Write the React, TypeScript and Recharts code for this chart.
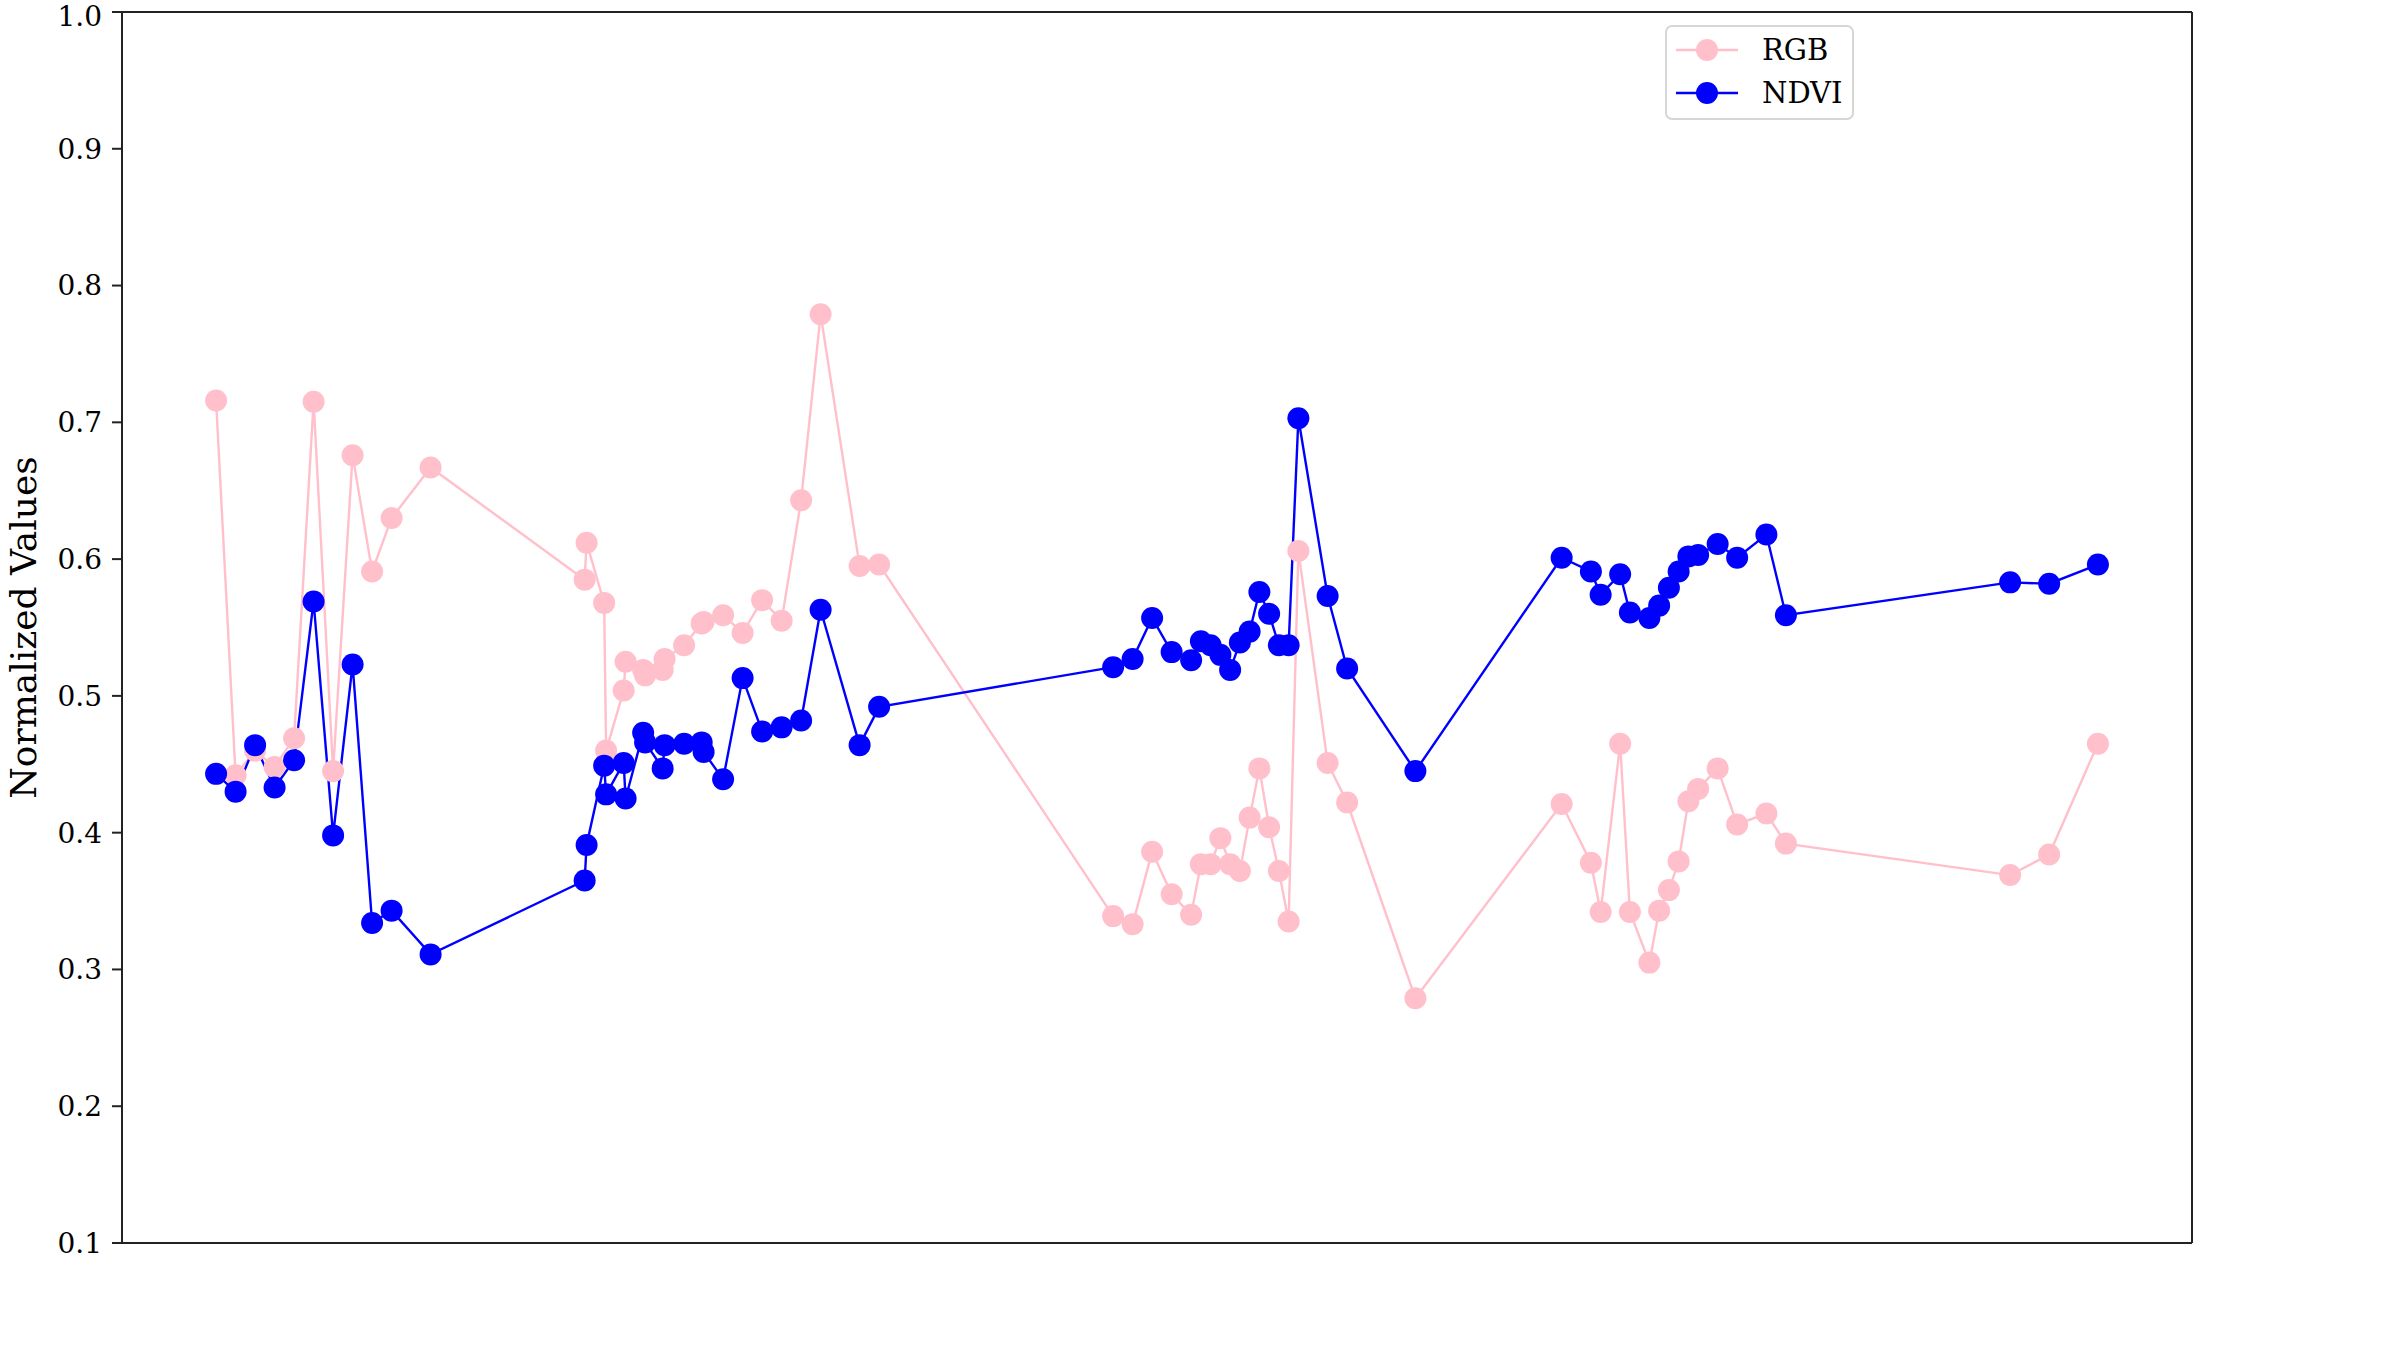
import { LineChart, Line, XAxis, YAxis, ReferenceLine } from "recharts";

// days since first acquisition (x axis has no labels in the original)
const days = [
  0, 10, 20, 30, 40, 50, 60, 70, 80, 90, 110,
  189, 190, 199, 200, 209, 210, 219, 220, 229, 230, 240, 249, 250, 260, 270, 280, 290, 300, 310, 330, 340,
  460, 470, 480, 490, 500, 505, 510, 515, 520, 525, 530, 535, 540, 545, 550, 555, 570, 580, 615,
  690, 705, 710, 720, 725, 735, 740, 745, 750, 755, 760, 770, 780, 795, 805,
  920, 940, 965,
];

const rgbValues = [
  0.716, 0.442, 0.46, 0.448, 0.469, 0.715, 0.445, 0.676, 0.591, 0.63, 0.667,
  0.585, 0.612, 0.568, 0.46, 0.504, 0.525, 0.519, 0.515, 0.519, 0.527, 0.537, 0.553, 0.554, 0.559, 0.546, 0.57, 0.555, 0.643, 0.779, 0.595, 0.596,
  0.339, 0.333, 0.386, 0.355, 0.34, 0.377, 0.377, 0.396, 0.377, 0.372, 0.411, 0.447, 0.404, 0.372, 0.335, 0.606, 0.451, 0.422, 0.279,
  0.421, 0.378, 0.342, 0.465, 0.342, 0.305, 0.343, 0.358, 0.379, 0.423, 0.432, 0.447, 0.406, 0.414, 0.392,
  0.369, 0.384, 0.465,
];

const ndviValues = [
  0.443, 0.43, 0.464, 0.433, 0.453, 0.569, 0.398, 0.523, 0.334, 0.343, 0.311,
  0.365, 0.391, 0.449, 0.428, 0.451, 0.425, 0.473, 0.466, 0.447, 0.464, 0.465, 0.466, 0.459, 0.439, 0.513, 0.474, 0.477, 0.482, 0.563, 0.464, 0.492,
  0.521, 0.527, 0.557, 0.532, 0.526, 0.54, 0.537, 0.53, 0.519, 0.539, 0.547, 0.576, 0.56, 0.537, 0.537, 0.703, 0.573, 0.52, 0.445,
  0.601, 0.591, 0.574, 0.589, 0.561, 0.557, 0.566, 0.579, 0.591, 0.602, 0.603, 0.611, 0.601, 0.618, 0.559,
  0.583, 0.582, 0.596,
];

const yTicks = [0.1, 0.2, 0.3, 0.4, 0.5, 0.6, 0.7, 0.8, 0.9, 1.0];

const series = [
  { key: "rgb", name: "RGB", color: "pink" },
  { key: "ndvi", name: "NDVI", color: "blue" },
];

const data = days.map((day, i) => ({ day, rgb: rgbValues[i], ndvi: ndviValues[i] }));

// matplotlib-style 5% margin on x
const xPad = (days[days.length - 1] - days[0]) * 0.05;
const xDomain = [days[0] - xPad, days[days.length - 1] + xPad];

const FONT = "'DejaVu Serif', serif";
const SPINE = "#222";

const YLabel = ({ viewBox }: any) => {
  const cx = 23;
  const cy = viewBox.y + viewBox.height / 2;
  return (
    <text
      x={cx}
      y={cy}
      transform={`rotate(-90, ${cx}, ${cy})`}
      textAnchor="middle"
      dominantBaseline="central"
      fontFamily={FONT}
      fontSize={36}
      fill="#000"
    >
      Normalized Values
    </text>
  );
};

const LegendBox = () => (
  <div
    style={{
      position: "absolute",
      left: 1665,
      top: 25,
      width: 189,
      height: 95,
      border: "2px solid #d6d6d6",
      borderRadius: 7,
      background: "rgba(255,255,255,0.8)",
      boxSizing: "border-box",
      fontFamily: FONT,
      fontSize: 29,
      color: "#000",
    }}
  >
    {series.map((s, i) => (
      <div
        key={s.key}
        style={{ position: "absolute", left: 9, top: 8 + i * 42.5, height: 30, display: "flex", alignItems: "center" }}
      >
        <svg width={62} height={30}>
          <line x1={0} y1={15} x2={62} y2={15} stroke={s.color} strokeWidth={2.5} />
          <circle cx={31} cy={15} r={11} fill={s.color} />
        </svg>
        <span style={{ marginLeft: 24, lineHeight: "30px" }}>{s.name}</span>
      </div>
    ))}
  </div>
);

const App = () => {
  return (
    <div style={{ position: "absolute", left: 0, top: 0, width: 2400, height: 1350, background: "#fff" }}>
      <LineChart width={2400} height={1350} data={data} margin={{ top: 12, right: 208, bottom: 107, left: 0 }}>
        <XAxis
          dataKey="day"
          type="number"
          domain={xDomain}
          allowDataOverflow
          height={0}
          tick={false}
          tickLine={false}
          axisLine={{ stroke: SPINE, strokeWidth: 2 }}
        />
        <YAxis
          type="number"
          domain={[0.1, 1.0]}
          allowDataOverflow
          ticks={yTicks}
          tickFormatter={(v) => v.toFixed(1)}
          width={122}
          tickSize={10}
          tickMargin={10}
          tick={{ fontFamily: FONT, fontSize: 28, fill: "#000" }}
          axisLine={{ stroke: SPINE, strokeWidth: 2 }}
          tickLine={{ stroke: SPINE, strokeWidth: 2 }}
          label={<YLabel />}
        />
        <ReferenceLine y={1.0} stroke={SPINE} strokeWidth={2} />
        <ReferenceLine y={0.1} stroke={SPINE} strokeWidth={2} />
        <ReferenceLine x={xDomain[1]} stroke={SPINE} strokeWidth={2} />
        {series.map((s) => (
          <Line
            key={s.key}
            dataKey={s.key}
            name={s.name}
            stroke={s.color}
            strokeWidth={2.4}
            dot={{ r: 11, fill: s.color, stroke: s.color, strokeWidth: 0 }}
            activeDot={false}
            isAnimationActive={false}
          />
        ))}
      </LineChart>
      <LegendBox />
    </div>
  );
};

export default App;
